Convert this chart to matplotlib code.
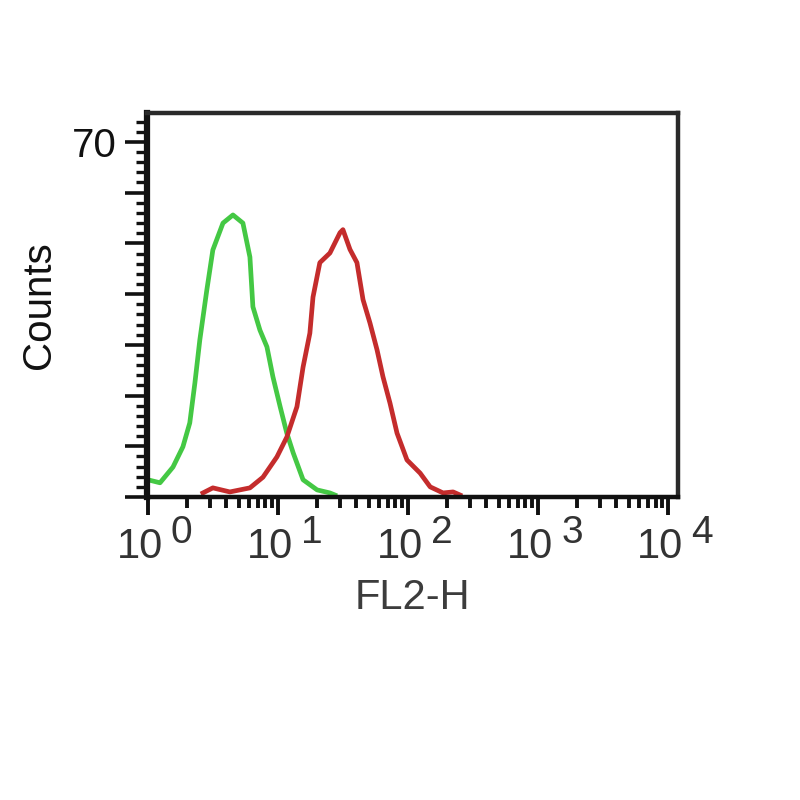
"""
Flow cytometry histogram: FL2-H counts, isotype control (green) vs stained (red).
"""

import numpy as np
import matplotlib
matplotlib.use("Agg")
import matplotlib.pyplot as plt
from matplotlib.ticker import FixedLocator, MultipleLocator, LogLocator, NullFormatter, FuncFormatter

plt.rcParams['font.family'] = ['Liberation Sans', 'DejaVu Sans']

# Data (FL2-H channel, counts)
green_x = [1.0, 1.24, 1.56, 1.86, 2.10, 2.30, 2.51, 2.84, 3.16, 3.78, 4.51, 5.38,
           6.09, 6.42, 7.27, 8.23, 9.15, 10.4, 11.7, 13.1, 15.6, 20.0, 25.1, 27.4]
green_counts = [3.4, 2.8, 5.9, 9.9, 14.6, 22.5, 31.0, 40.8, 48.7, 54.0, 55.6, 54.0,
                47.3, 37.5, 32.9, 29.6, 23.7, 17.8, 12.6, 8.7, 3.4, 1.4, 0.8, 0.4]

red_x = [2.65, 3.16, 4.27, 6.09, 7.67, 9.82, 11.7, 14.0, 15.6, 17.6, 18.6, 21.0,
         25.1, 30.0, 31.6, 35.8, 40.5, 45.1, 51.0, 57.8, 64.2, 72.7, 82.3, 98.2,
         124, 148, 186, 222, 251]
red_counts = [0.8, 1.8, 1.0, 1.8, 3.9, 7.9, 11.8, 17.8, 25.6, 32.3, 39.4, 46.2,
              48.1, 52.1, 52.7, 48.8, 46.2, 38.9, 34.3, 29.0, 23.7, 18.5, 12.6, 7.3,
              4.7, 2.0, 0.8, 1.0, 0.4]

decades = [0, 1, 2, 3, 4]
y_label_ticks = [70]

fig = plt.figure(figsize=(8, 8), dpi=100)
ax = fig.add_axes([0.18375, 0.37875, 0.66375, 0.48])

ax.plot(green_x, green_counts, color='#44c844', lw=3.4, solid_joinstyle='round')
ax.plot(red_x, red_counts, color='#c42c2c', lw=3.4, solid_joinstyle='round')

ax.set_xscale('log')
ax.set_xlim(0.985, 11900)
ax.set_ylim(0, 75.7)

# x axis: decade ticks, labels drawn by hand as "10" + raised exponent
ax.xaxis.set_major_locator(FixedLocator([10.0 ** d for d in decades]))
ax.xaxis.set_minor_locator(LogLocator(base=10, subs=np.arange(2, 10)))
ax.xaxis.set_major_formatter(NullFormatter())
ax.xaxis.set_minor_formatter(NullFormatter())
ax.tick_params(axis='x', which='major', length=13, width=2.8, direction='out', color='#111111')
ax.tick_params(axis='x', which='minor', length=8, width=2.8, direction='out', color='#111111')

for d in decades:
    ax.annotate('10', xy=(10.0 ** d, 0), xycoords=('data', 'axes fraction'),
                xytext=(15, -61), textcoords='offset pixels', ha='right', va='baseline',
                fontsize=30, color='#333333')
    ax.annotate(str(d), xy=(10.0 ** d, 0), xycoords=('data', 'axes fraction'),
                xytext=(23, -46), textcoords='offset pixels', ha='left', va='baseline',
                fontsize=28, color='#333333')

# y axis: only the top major tick is labelled
ax.yaxis.set_major_locator(MultipleLocator(10))
ax.yaxis.set_minor_locator(MultipleLocator(2))
ax.yaxis.set_major_formatter(FuncFormatter(lambda v, p: f"{v:.0f}" if round(v) in y_label_ticks else ""))
ax.tick_params(axis='y', which='major', length=16, width=2.6, direction='out', pad=6,
               labelsize=29, color='#111111', labelcolor='#111111')
ax.tick_params(axis='y', which='minor', length=8, width=2.4, direction='out', color='#111111')

ax.set_xlabel('FL2-H', fontsize=30, color='#3c3c3c', labelpad=42)
ax.set_ylabel('Counts', fontsize=29, color='#111111', labelpad=10)

ax.spines['left'].set_linewidth(4.5)
ax.spines['left'].set_color('#111111')
ax.spines['bottom'].set_linewidth(3.2)
ax.spines['bottom'].set_color('#111111')
for side in ['top', 'right']:
    ax.spines[side].set_linewidth(3.2)
    ax.spines[side].set_color('#2a2a2a')

fig.savefig('out.png', dpi=100, facecolor='white')
